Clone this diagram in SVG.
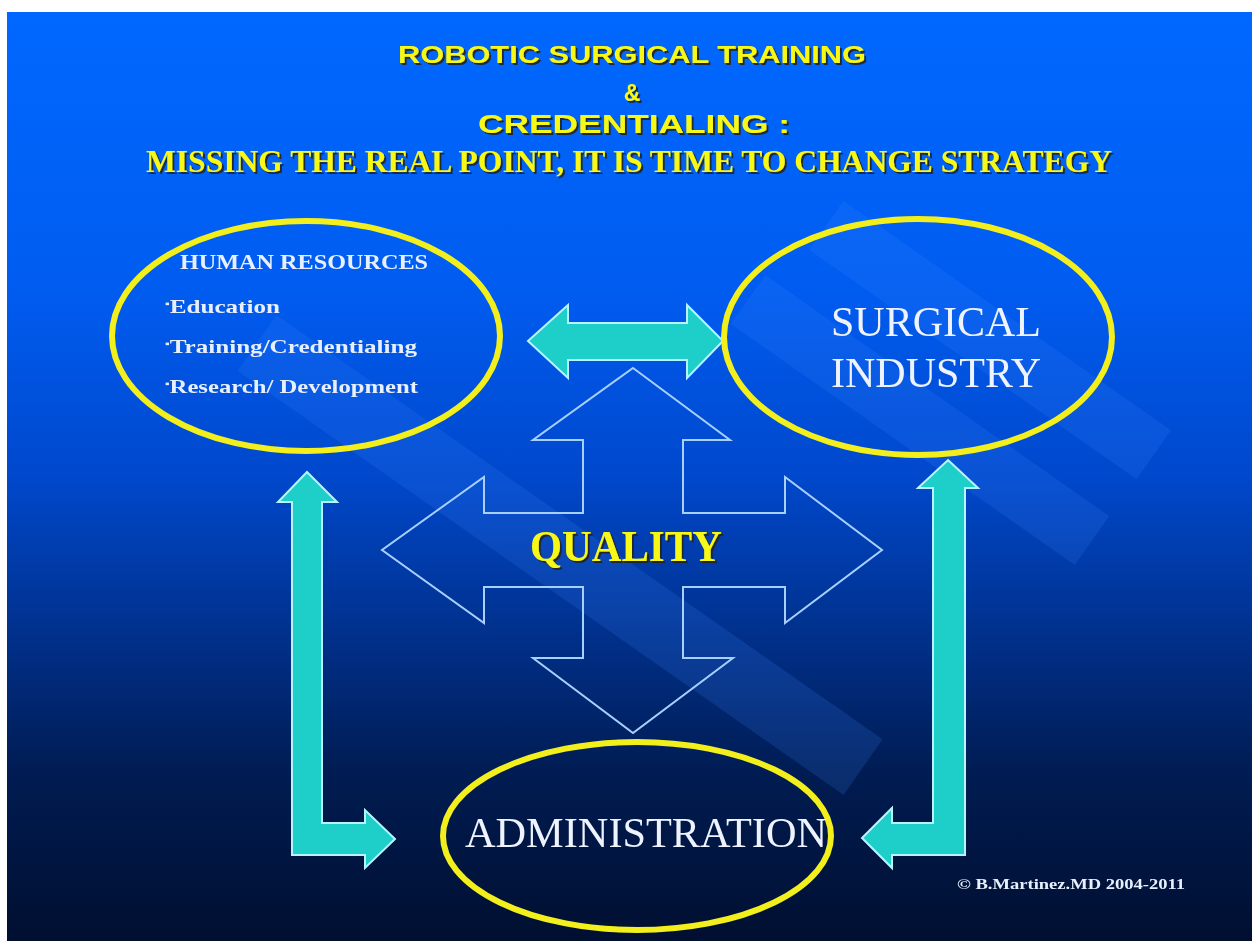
<svg xmlns="http://www.w3.org/2000/svg" width="1252" height="941" viewBox="0 0 1252 941">
<defs>
<linearGradient id="bg" x1="0" y1="0" x2="0" y2="1">
<stop offset="0" stop-color="#0068ff"/>
<stop offset="0.3" stop-color="#005cf0"/>
<stop offset="0.5" stop-color="#0048cc"/>
<stop offset="0.68" stop-color="#002f88"/>
<stop offset="0.82" stop-color="#001c52"/>
<stop offset="1" stop-color="#000f30"/>
</linearGradient>
<filter id="sh" x="-5%" y="-20%" width="110%" height="150%">
<feDropShadow dx="2" dy="2" stdDeviation="0.4" flood-color="#202020" flood-opacity="0.9"/>
</filter>
<style>
.ttl{font-family:"Liberation Sans",Arial,sans-serif;font-weight:bold;fill:#f8f818;filter:url(#sh)}
.ttls{font-family:"Liberation Serif","Times New Roman",serif;font-weight:bold;fill:#f8f818;filter:url(#sh)}
.ell{fill:none;stroke:#f2ef1c;stroke-width:6}
.wt{font-family:"Liberation Serif","Times New Roman",serif;fill:#eef3ff}
.wb{font-family:"Liberation Serif","Times New Roman",serif;font-weight:bold;fill:#e8f0ff}
.cy{fill:#1ecfc9;stroke:#b8f4ff;stroke-width:2;stroke-linejoin:miter}
.qa{fill:none;stroke:#a8d0ff;stroke-width:2}
.band{fill:#3d86ff}
</style>
</defs>
<rect x="0" y="0" width="1252" height="941" fill="#ffffff"/>
<rect x="7" y="12" width="1245" height="929" fill="url(#bg)"/>
<g id="bands" opacity="0.17">
<rect class="band" x="-370" y="-34" width="740" height="68" transform="translate(560,555) rotate(35)"/>
<rect class="band" x="-200" y="-30" width="400" height="60" transform="translate(990,340) rotate(35)"/>
<rect class="band" x="-210" y="-30" width="420" height="60" transform="translate(920,420) rotate(35)"/>
</g>
<g id="title">
<text class="ttl" x="632" y="63" font-size="24" text-anchor="middle" textLength="468" lengthAdjust="spacingAndGlyphs">ROBOTIC  SURGICAL TRAINING</text>
<text class="ttl" x="632" y="101" font-size="23" text-anchor="middle">&amp;</text>
<text class="ttl" x="634" y="133" font-size="25" text-anchor="middle" textLength="312" lengthAdjust="spacingAndGlyphs">CREDENTIALING :</text>
<text class="ttls" x="629" y="172" font-size="32" text-anchor="middle" textLength="966" lengthAdjust="spacingAndGlyphs">MISSING THE REAL POINT, IT IS TIME TO CHANGE STRATEGY</text>
</g>
<g id="quality">
<polygon class="qa" points="633,368 730,440 683,440 683,513 785,513 785,477 882,550 785,623 785,587 683,587 683,658 733,658 633,733 533,658 583,658 583,587 484,587 484,623 382,550 484,477 484,513 583,513 583,440 533,440"/>
<text class="ttls" x="626" y="561" font-size="44" text-anchor="middle" textLength="192" lengthAdjust="spacingAndGlyphs">QUALITY</text>
</g>
<g id="connectors">
<polygon class="cy" points="528,341 568,305 568,323 687,323 687,305 723,341 687,378 687,360 568,360 568,378"/>
<polygon class="cy" points="307,472 337,502 322,502 322,823 365,823 365,810 395,839 365,868 365,855 292,855 292,502 278,502"/>
<polygon class="cy" points="948,460 978,488 965,488 965,855 892,855 892,868 862,838 892,808 892,823 933,823 933,488 918,488"/>
</g>
<g id="human-resources">
<ellipse class="ell" cx="306" cy="336" rx="194" ry="115"/>
<text class="wb" x="180" y="269" font-size="22" textLength="248" lengthAdjust="spacingAndGlyphs">HUMAN RESOURCES</text>
<text class="wb" x="165" y="313" font-size="19" textLength="115" lengthAdjust="spacingAndGlyphs"><tspan font-size="10" dy="-6">▪</tspan><tspan dy="6">Education</tspan></text>
<text class="wb" x="165" y="353" font-size="19" textLength="252" lengthAdjust="spacingAndGlyphs"><tspan font-size="10" dy="-6">▪</tspan><tspan dy="6">Training/Credentialing</tspan></text>
<text class="wb" x="165" y="393" font-size="19" textLength="253" lengthAdjust="spacingAndGlyphs"><tspan font-size="10" dy="-6">▪</tspan><tspan dy="6">Research/ Development</tspan></text>
</g>
<g id="surgical-industry">
<ellipse class="ell" cx="918" cy="337" rx="194" ry="118"/>
<text class="wt" x="936" y="336" font-size="42" text-anchor="middle">SURGICAL</text>
<text class="wt" x="936" y="387" font-size="42" text-anchor="middle">INDUSTRY</text>
</g>
<g id="administration">
<ellipse class="ell" cx="637" cy="836" rx="194" ry="94"/>
<text class="wt" x="646" y="847" font-size="42" text-anchor="middle" textLength="362" lengthAdjust="spacingAndGlyphs">ADMINISTRATION</text>
</g>
<text class="wb" x="957" y="889" font-size="15" textLength="228" lengthAdjust="spacingAndGlyphs">© B.Martinez.MD 2004-2011</text>
</svg>
